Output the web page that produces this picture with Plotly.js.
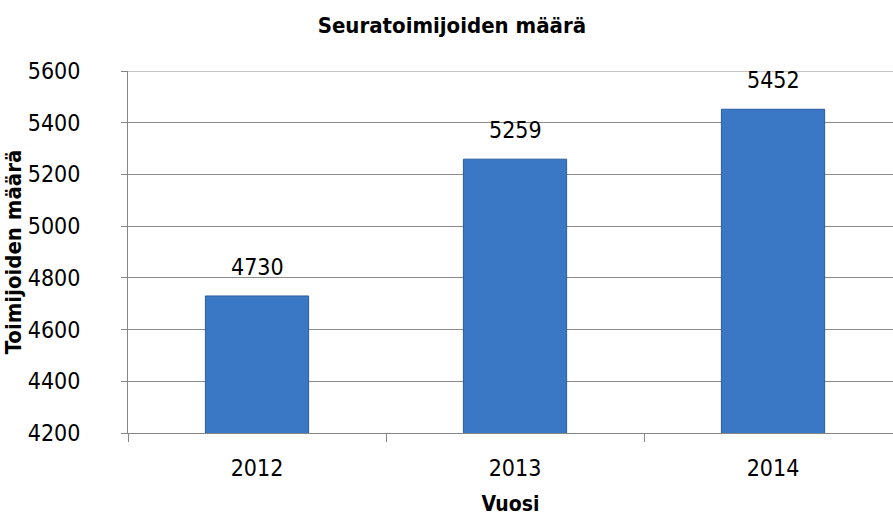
<!DOCTYPE html>
<html>
<head>
<meta charset="utf-8">
<script src="https://cdn.plot.ly/plotly-3.0.1.min.js"></script>
<style>
  html, body { margin: 0; padding: 0; background: #fff; }
  #chart { width: 893px; height: 521px; }
</style>
</head>
<body>
<div id="chart"></div>
<script>
// Chart data
const years = ['2012', '2013', '2014'];
const counts = [4730, 5259, 5452];
const yTicks = [4200, 4400, 4600, 4800, 5000, 5200, 5400, 5600];

const FONT = "'Liberation Sans Narrow', 'DejaVu Sans Condensed', 'Liberation Sans', sans-serif";

const trace = {
    type: 'bar',
    x: years,
    y: counts,
    width: 0.4,
    marker: {
        color: '#3a77c5',
        line: { color: '#2a5c9e', width: 1 },
    },
    hoverinfo: 'skip',
};

// value labels sit a bit higher above the bars than Plotly's 'outside' text
// (category axis: annotation x is the category index)
const valueLabels = counts.map((v, i) => ({
    x: i,
    y: v,
    xref: 'x',
    yref: 'y',
    text: String(v),
    showarrow: false,
    xanchor: 'center',
    yanchor: 'bottom',
    yshift: 14,
    font: { family: FONT, size: 23, color: '#000000' },
}));

const layout = {
    width: 893,
    height: 521,
    paper_bgcolor: '#fff',
    plot_bgcolor: '#fff',
    showlegend: false,
    margin: { l: 128, r: 0, t: 71, b: 88 },
    font: { family: FONT, color: '#000' },
    title: {
        text: '<b>Seuratoimijoiden määrä</b>',
        font: { family: FONT, size: 22, color: '#000' },
        x: 0.506,
        xanchor: 'center',
        y: 0.952,
        yanchor: 'middle',
    },
    xaxis: {
        type: 'category',
        range: [-0.5, 2.465],
        tickson: 'boundaries',
        ticks: 'outside',
        ticklen: 8,
        tickcolor: '#868686',
        showline: true,
        linecolor: '#868686',
        linewidth: 1,
        showgrid: false,
        tickfont: { family: FONT, size: 23, color: '#000' },
        ticklabelstandoff: 14,
        title: {
            text: '<b>Vuosi</b>',
            font: { family: FONT, size: 21, color: '#000' },
            standoff: 16,
        },
    },
    yaxis: {
        range: [4200, 5600],
        tickvals: yTicks,
        ticktext: yTicks.map(String),
        ticks: 'outside',
        ticklen: 6,
        tickcolor: '#868686',
        showline: true,
        linecolor: '#868686',
        linewidth: 1,
        showgrid: true,
        gridcolor: '#8c8c8c',
        gridwidth: 1,
        zeroline: false,
        tickfont: { family: FONT, size: 23, color: '#000' },
        ticklabelstandoff: 36,
        title: {
            text: '<b>Toimijoiden määrä</b>',
            font: { family: FONT, size: 22, color: '#000' },
            standoff: 0,
        },
    },
    annotations: valueLabels,
    // top gridline at 5600 (Plotly skips the grid line on the plot edge)
    shapes: [{
        type: 'line', xref: 'paper', yref: 'y',
        x0: 0, x1: 1, y0: yTicks[yTicks.length - 1], y1: yTicks[yTicks.length - 1],
        line: { color: '#8c8c8c', width: 1 },
        layer: 'below',
    }],
};

Plotly.newPlot('chart', [trace], layout, { displayModeBar: false, staticPlot: true });
</script>
</body>
</html>
